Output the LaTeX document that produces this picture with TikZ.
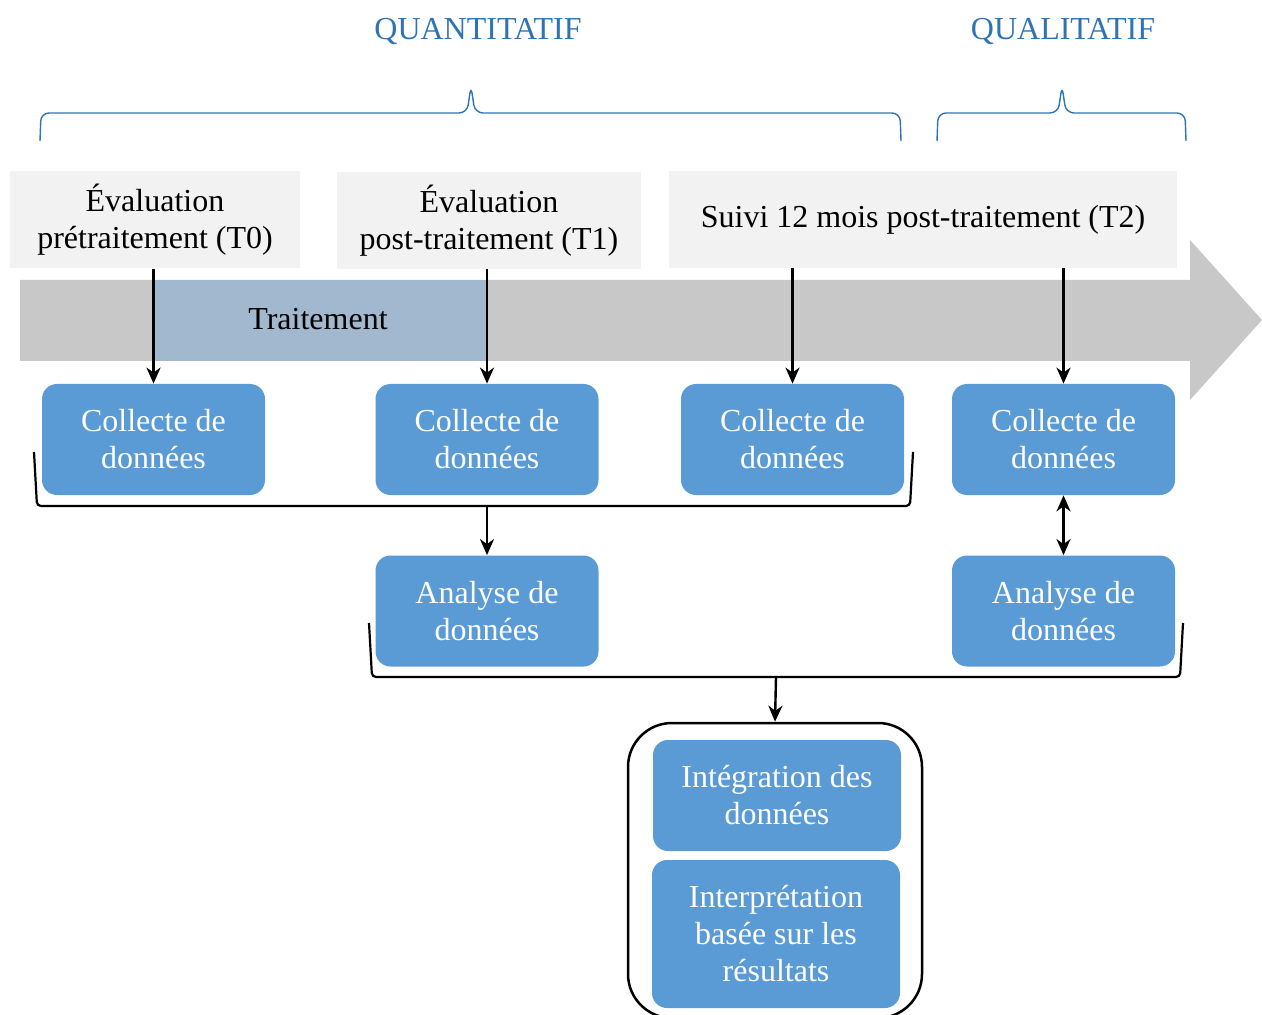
\documentclass[tikz,border=0pt]{standalone}
\usepackage{fontspec}
\setmainfont{Liberation Serif}
\usetikzlibrary{arrows.meta}
\usetikzlibrary{calc}
\definecolor{boxblue}{HTML}{5B9BD5}
\definecolor{headblue}{HTML}{2E74B5}
\definecolor{evalgray}{HTML}{F2F2F2}
\definecolor{arrowgray}{HTML}{C8C8C8}
\definecolor{treatblue}{HTML}{A2B8CF}

\begin{document}
\begin{tikzpicture}[x=.5pt,y=-.5pt,
  every node/.style={font=\fontsize{16}{18.5}\selectfont, align=center, inner sep=0pt},
  evalbox/.style={fill=evalgray, minimum height=48.5pt},
  bluebox/.style={fill=boxblue, text=white, rounded corners=7.5pt, minimum width=111.5pt, minimum height=55.5pt},
  link/.style={line width=1.2pt, -{Stealth[length=8pt,width=7pt,inset=2.5pt]}},
  bracket/.style={line width=1.1pt, rounded corners=2pt},
  brace/.style={headblue, line width=.7pt, rounded corners=4pt}]
\useasboundingbox (0,0) rectangle (1262,1015);
% The time line
\begin{scope}[arrowgray]
\fill (20,280) -- (1190,280) -- (1190,240) -- (1262,320) -- (1190,400) -- (1190,361) -- (20,361) -- cycle;
\end{scope}
\fill[treatblue] (155,280) rectangle (487,361);
\node (treat) at (318,319) {Traitement};
% The braces on top
\node[text=headblue] (quanti) at (478,32) {QUANTITATIF};
\node[text=headblue] (quali) at (1063,32) {QUALITATIF};
\draw[brace] (40,141) -- (41,113) -- (467,113) -- (471,86) -- (475,113) -- (900,113) -- (901,141);
\draw[brace] (937,141) -- (938,113) -- (1058,113) -- (1062,86) -- (1066,113) -- (1185,113) -- (1186,141);
% The gray boxes
\node[evalbox, minimum width=145pt] (t0) at (155,220) {Évaluation\\prétraitement (T0)};
\node[evalbox, minimum width=152pt] (t1) at (489,220.5) {Évaluation\\post-traitement (T1)};
\node[evalbox, minimum width=254pt] (t2) at (923,219.5) {Suivi 12 mois post-traitement (T2)};
% The blue boxes
%     collecte row
\node[bluebox] (c1) at (153.5,439.5) {Collecte de\\données};
\node[bluebox] (c2) at (487,439.5) {Collecte de\\données};
\node[bluebox] (c3) at (792.5,439.5) {Collecte de\\données};
\node[bluebox] (c4) at (1063.5,439.5) {Collecte de\\données};
%     analyse row
\node[bluebox] (a1) at (487,611) {Analyse de\\données};
\node[bluebox] (a2) at (1063.5,611) {Analyse de\\données};
%     the last box
\node[draw, line width=1.25pt, rounded corners=22pt, minimum width=147pt, minimum height=147.5pt] (synth) at (775,870.5) {};
\node[bluebox, minimum width=124pt] (integ) at (777,795.5) {Intégration des\\données};
\node[bluebox, minimum width=124pt, minimum height=74pt] (interp) at (776,934) {Interprétation\\basée sur les\\résultats};
% The arrows
\draw[link] (c1.north |- t0.south) -- (c1.north);
\draw[link] (c2.north |- t1.south) -- (c2.north);
\draw[link] (c3.north |- t2.south) -- (c3.north);
\draw[link] (c4.north |- t2.south) -- (c4.north);
\draw[bracket] (34,452) -- (37,506) -- (910,506) -- (913,452);
\coordinate (b1) at (487,506);
\draw[link] (b1) -- (a1.north);
\draw[link, {Stealth[length=8pt,width=7pt,inset=2.5pt]}-{Stealth[length=8pt,width=7pt,inset=2.5pt]}] (c4.south) -- (a2.north);
\draw[bracket] (369,623) -- (372,677) -- (1180,677) -- (1183,623);
\coordinate (b2) at (776,677);
\draw[link] (b2) -- (synth.north);
\end{tikzpicture}
\end{document}
